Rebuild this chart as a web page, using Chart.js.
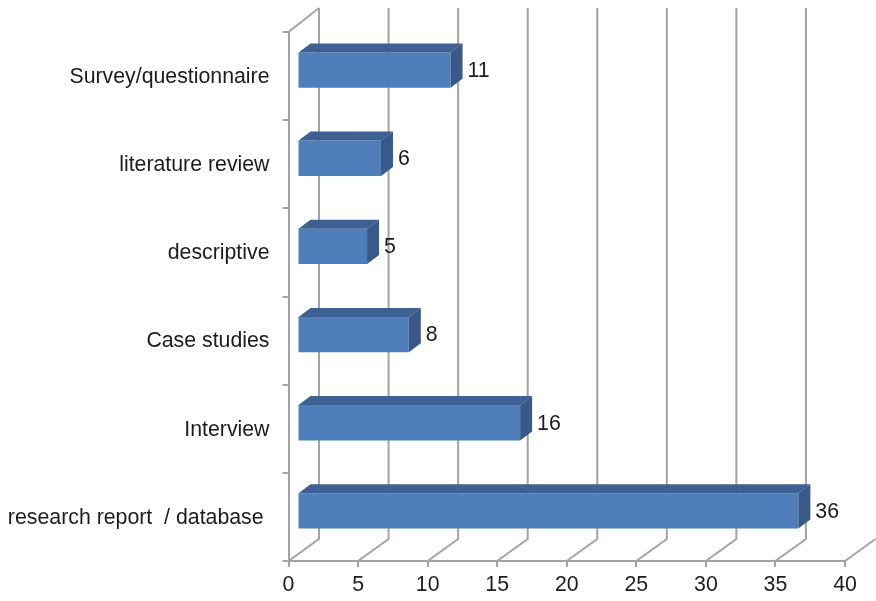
<!DOCTYPE html>
<html>
<head>
<meta charset="utf-8">
<title>Bar chart</title>
<script src="https://cdn.jsdelivr.net/npm/chart.js@4/dist/chart.umd.min.js"></script>
<style>
  html, body { margin: 0; padding: 0; background: #fff; }
  canvas { display: block; }
</style>
</head>
<body>
<canvas id="myChart" width="876" height="601"></canvas>
<script>
// chart values
var categories = ['Survey/questionnaire', 'literature review', 'descriptive', 'Case studies', 'Interview', 'research report  / database '];
var counts = [11, 6, 5, 8, 16, 36];
var tickValues = [0, 5, 10, 15, 20, 25, 30, 35, 40];

var gridColor = '#a3a3a3';
var textColor = '#1c1c1c';
var fontFamily = '"Liberation Sans", Arial, sans-serif';
var fontSize = 21.3;

// how far the back wall sits from the front of the box
var wallX = 30.5;
var wallY = 22;
// bars stand a little inside the box, with their own depth
var barShiftX = 9;
var barShiftY = -6;
var barDepthX = 12;
var barDepthY = 9;

// back wall lines and floor lines, these go under the bars
var wallPlugin = {
  id: 'wall',
  beforeDatasetsDraw: function(chart) {
    var ctx = chart.ctx;
    var area = chart.chartArea;
    var xScale = chart.scales.x;
    var last = xScale.ticks.length - 1;
    ctx.save();
    ctx.strokeStyle = gridColor;
    ctx.lineWidth = 2;
    xScale.ticks.forEach(function(tick, i) {
      var x = xScale.getPixelForTick(i);
      ctx.beginPath();
      ctx.moveTo(x, area.bottom);
      ctx.lineTo(x + wallX, area.bottom - wallY);
      // the last wall line would run off the edge of the canvas
      if (i < last) ctx.lineTo(x + wallX, area.top - wallY - 2);
      ctx.stroke();
    });
    // top edge of the side wall
    ctx.beginPath();
    ctx.moveTo(area.left, area.top);
    ctx.lineTo(area.left + wallX, area.top - wallY - 2);
    ctx.stroke();
    ctx.restore();
  }
};

// moves the flat bars, then adds top face, side face and value text
var barPlugin = {
  id: 'bars3d',
  beforeDatasetDraw: function(chart) {
    chart.ctx.save();
    chart.ctx.translate(barShiftX, barShiftY);
  },
  afterDatasetDraw: function(chart, args) {
    var ctx = chart.ctx;
    var bars = chart.getDatasetMeta(args.index).data;
    bars.forEach(function(bar, i) {
      var top = bar.y - bar.height / 2;
      var bottom = bar.y + bar.height / 2;

      ctx.fillStyle = '#3f6092';
      ctx.beginPath();
      ctx.moveTo(bar.base, top);
      ctx.lineTo(bar.base + barDepthX, top - barDepthY);
      ctx.lineTo(bar.x + barDepthX, top - barDepthY);
      ctx.lineTo(bar.x, top);
      ctx.closePath();
      ctx.fill();

      ctx.fillStyle = '#38598a';
      ctx.beginPath();
      ctx.moveTo(bar.x, top);
      ctx.lineTo(bar.x + barDepthX, top - barDepthY);
      ctx.lineTo(bar.x + barDepthX, bottom - barDepthY);
      ctx.lineTo(bar.x, bottom);
      ctx.closePath();
      ctx.fill();

      ctx.fillStyle = textColor;
      ctx.font = fontSize + 'px ' + fontFamily;
      ctx.textAlign = 'left';
      ctx.textBaseline = 'middle';
      ctx.fillText(String(counts[i]), bar.x + barDepthX + 5, bar.y + 1);
    });
    ctx.restore();
  }
};

function createChart() {
  var ctx = document.getElementById('myChart').getContext('2d');
  new Chart(ctx, {
    type: 'bar',
    data: {
      labels: categories,
      datasets: [{
        data: counts,
        backgroundColor: '#4f7fba',
        borderWidth: 0,
        barPercentage: 0.4,
        categoryPercentage: 1
      }]
    },
    options: {
      indexAxis: 'y',
      responsive: false,
      animation: false,
      devicePixelRatio: 1,
      layout: { padding: { top: 32, right: 31, bottom: 0, left: 0 } },
      plugins: { legend: { display: false }, tooltip: { enabled: false } },
      scales: {
        x: {
          min: 0,
          max: 40,
          afterBuildTicks: function(axis) {
            axis.ticks = tickValues.map(function(v) { return { value: v }; });
          },
          afterFit: function(axis) { axis.height = 40; },
          border: { color: gridColor, width: 2 },
          grid: { drawOnChartArea: false, color: gridColor, lineWidth: 2, tickLength: 6 },
          ticks: {
            color: textColor,
            padding: 5,
            maxRotation: 0,
            font: { family: fontFamily, size: fontSize }
          }
        },
        y: {
          afterFit: function(axis) { axis.width = 288.5; },
          border: { color: gridColor, width: 2 },
          grid: { offset: true, drawOnChartArea: false, color: gridColor, lineWidth: 2, tickLength: 6 },
          ticks: {
            color: textColor,
            padding: 13,
            labelOffset: 1,
            font: { family: fontFamily, size: fontSize }
          }
        }
      }
    },
    plugins: [wallPlugin, barPlugin]
  });
}
createChart();
</script>
</body>
</html>
